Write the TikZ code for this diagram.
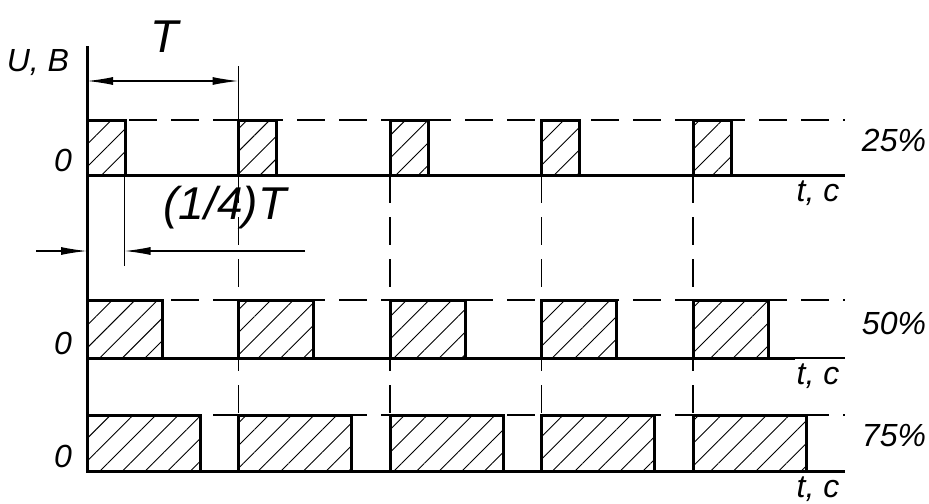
\documentclass[tikz,border=0pt]{standalone}
\usepackage{fontspec}
\setmainfont{Liberation Sans}
\usetikzlibrary{arrows.meta,patterns.meta}
\begin{document}
\begin{tikzpicture}[
  x=0.5pt, y=-0.5pt,
  every node/.style={inner sep=0pt, font=\itshape\fontsize{16}{16}\selectfont},
  big/.style={font=\itshape\fontsize{23}{23}\selectfont},
  signal/.style={line width=1.5pt},
  thinline/.style={line width=0.6pt},
  guide/.style={line width=0.6pt, dash pattern=on 14pt off 7pt},
  pulse/.style={draw, line width=1.5pt, pattern={Lines[angle=45,distance=8pt,line width=0.45pt]}},
  dimarrow/.style={line width=0.6pt, -{Latex[length=13pt,width=4pt]}}
]
  \useasboundingbox (0,0) rectangle (929,503);
  \foreach \x in {238.5,390,541.5,693} {
    \draw[guide] (\x,175) -- (\x,415);
  }
  \foreach \top/\base/\w/\xend/\pc in {120/175/38/845/25, 300/358/75/795/50, 415/471/113/845/75} {
    \draw[guide] (87,\top) -- (845,\top);
    \draw[thinline] (87,\base) -- (845,\base);
    \draw[signal] (87,\base) -- (\xend,\base);
    \foreach \i in {0,...,4} {
      \draw[pulse] ({87+151.5*\i},\base) rectangle ++(\w,{\top-\base});
    }
    \node (zero\pc) at (63,\base-15) {0};
    \node (time\pc) at (818,\base+18) {t, с};
    \node (duty\pc) at (894,\base-35) {\pc\%};
  }
  \draw[signal] (87,46) -- (87,471);
  \node (axis) at (38,63) {U, В};
  \coordinate (tl) at (87,81);
  \coordinate (tr) at (238.5,81);
  \draw[thinline] (238.5,66) -- (238.5,120);
  \draw[dimarrow] (163,81) -- (tl);
  \draw[dimarrow] (163,81) -- (tr);
  \node[big] (period) at (165,37) {T};
  \coordinate (ql) at (36,251);
  \coordinate (qa) at (87,251);
  \coordinate (qb) at (124.5,251);
  \coordinate (qr) at (305,251);
  \draw[thinline] (124.5,175) -- (124.5,266);
  \draw[dimarrow] (ql) -- (qa);
  \draw[dimarrow] (qr) -- (qb);
  \node[big] (quarter) at (225,208) {(1/4)T};
\end{tikzpicture}
\end{document}
